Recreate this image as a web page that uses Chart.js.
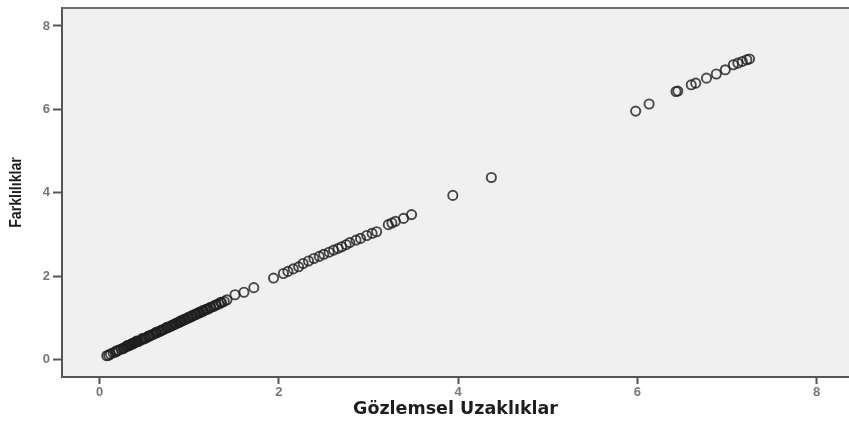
<!DOCTYPE html>
<html>
<head>
<meta charset="utf-8">
<script src="https://cdn.jsdelivr.net/npm/chart.js@4/dist/chart.umd.min.js"></script>
<style>
  html, body { margin: 0; padding: 0; background: #ffffff; }
  #wrap { width: 849px; height: 423px; }
</style>
</head>
<body>
<div id="wrap"><canvas id="c" width="849" height="423"></canvas></div>
<script>
// Gözlemsel Uzaklıklar (observed distances)
const observedX = [
  0.08, 0.12, 0.15, 0.18, 0.21, 0.24, 0.27, 0.29, 0.31, 0.33, 0.35, 0.37, 0.38, 0.40, 0.42,
  0.45, 0.47, 0.49, 0.52, 0.54, 0.56, 0.58, 0.60, 0.62, 0.64, 0.66, 0.68, 0.70, 0.72, 0.74,
  0.76, 0.78, 0.80, 0.82, 0.84, 0.86, 0.88, 0.90, 0.92, 0.94, 0.96, 0.98, 1.00, 1.02, 1.04,
  1.06, 1.08, 1.10, 1.12, 1.14, 1.16, 1.18, 1.21, 1.24, 1.27, 1.30, 1.33, 1.36, 1.39, 1.42,
  1.51, 1.61, 1.72, 1.94, 2.05, 2.10, 2.16, 2.22, 2.27, 2.33, 2.39, 2.45, 2.50, 2.56, 2.61,
  2.66, 2.70, 2.75, 2.79, 2.86, 2.91, 2.98, 3.04, 3.09, 3.22, 3.26, 3.30, 3.39, 3.48, 3.94,
  4.37, 5.98, 6.13, 6.43, 6.45, 6.60, 6.65, 6.77, 6.88, 6.98, 7.07, 7.12, 7.17, 7.22, 7.25,
  0.10, 0.19, 0.26, 0.30, 0.32, 0.34, 0.36, 0.39, 0.41, 0.43, 0.48, 0.51, 0.55, 0.63, 0.69,
  0.75, 0.81, 0.85, 0.89, 0.91, 0.95, 0.99, 1.03, 1.07, 1.11, 1.15, 1.19, 1.23, 1.29, 1.35
];
// Farklılıklar (disparities)
const disparities = [
  0.10, 0.14, 0.17, 0.19, 0.23, 0.26, 0.28, 0.31, 0.33, 0.34, 0.37, 0.38, 0.40, 0.42, 0.44,
  0.46, 0.49, 0.50, 0.53, 0.56, 0.57, 0.60, 0.61, 0.64, 0.65, 0.68, 0.69, 0.72, 0.73, 0.76,
  0.77, 0.80, 0.81, 0.84, 0.85, 0.88, 0.89, 0.92, 0.93, 0.96, 0.97, 1.00, 1.01, 1.04, 1.05,
  1.08, 1.09, 1.12, 1.13, 1.16, 1.17, 1.20, 1.22, 1.26, 1.28, 1.32, 1.34, 1.37, 1.40, 1.44,
  1.56, 1.62, 1.73, 1.96, 2.07, 2.12, 2.18, 2.23, 2.31, 2.37, 2.43, 2.48, 2.53, 2.58, 2.63,
  2.67, 2.71, 2.76, 2.81, 2.87, 2.91, 2.98, 3.03, 3.07, 3.24, 3.28, 3.32, 3.39, 3.48, 3.94,
  4.37, 5.96, 6.13, 6.43, 6.44, 6.59, 6.63, 6.75, 6.85, 6.95, 7.07, 7.11, 7.15, 7.19, 7.21,
  0.11, 0.22, 0.27, 0.33, 0.35, 0.36, 0.39, 0.41, 0.45, 0.44, 0.52, 0.52, 0.58, 0.66, 0.71,
  0.78, 0.83, 0.87, 0.91, 0.94, 0.98, 1.02, 1.06, 1.10, 1.14, 1.18, 1.21, 1.25, 1.31, 1.38
];
const tickValues = [0, 2, 4, 6, 8];
const xTitle = "Gözlemsel Uzaklıklar";
const yTitle = "Farklılıklar";

const points = observedX.map((x, i) => ({ x: x, y: disparities[i] }));

const bgPlugin = {
  id: 'bg',
  afterLayout(chart) {
    // condense the y-axis title along its length (narrow bold look)
    const s = chart.scales.y;
    if (s && !s._narrowed && typeof s.drawTitle === 'function') {
      const orig = s.drawTitle.bind(s);
      s.drawTitle = function () {
        const ctx = this.ctx;
        const cy = (this.top + this.bottom) / 2;
        ctx.save();
        ctx.translate(0, cy);
        ctx.scale(1, 0.83);
        ctx.translate(0, -cy);
        orig();
        ctx.restore();
      };
      s._narrowed = true;
    }
  },
  beforeDraw(chart) {
    const { ctx, chartArea: a } = chart;
    ctx.save();
    ctx.fillStyle = '#ffffff';
    ctx.fillRect(0, 0, chart.width, chart.height);
    ctx.fillStyle = '#f0f0f0';
    ctx.fillRect(a.left, a.top, a.right - a.left, a.bottom - a.top);
    ctx.restore();
  },
  afterDraw(chart) {
    const { ctx, chartArea: a } = chart;
    ctx.save();
    ctx.strokeStyle = '#707070';
    ctx.lineWidth = 2;
    ctx.beginPath();
    ctx.moveTo(a.left, a.top);
    ctx.lineTo(a.right, a.top);
    ctx.stroke();
    ctx.restore();
  }
};

new Chart(document.getElementById('c'), {
  type: 'scatter',
  data: {
    datasets: [{
      data: points,
      pointRadius: 4.6,
      pointHoverRadius: 4.6,
      pointBorderWidth: 1.9,
      pointBorderColor: 'rgba(30,30,30,0.8)',
      pointBackgroundColor: 'rgba(0,0,0,0)',
      showLine: false
    }]
  },
  plugins: [bgPlugin],
  options: {
    responsive: false,
    animation: false,
    events: [],
    layout: { autoPadding: false, padding: { top: 8, right: 0, left: 0, bottom: 0 } },
    plugins: { legend: { display: false }, tooltip: { enabled: false } },
    scales: {
      x: {
        type: 'linear',
        min: -0.42,
        max: 8.36,
        afterBuildTicks(scale) { scale.ticks = tickValues.map(v => ({ value: v })); },
        afterFit(scale) { scale.height = 46; scale.paddingRight = 0; scale.paddingLeft = 0; },
        border: { display: true, color: '#555555', width: 2 },
        grid: { drawOnChartArea: false, drawTicks: true, tickLength: 7, tickWidth: 2, tickColor: '#555555' },
        ticks: { color: '#777777', font: { family: 'Liberation Sans, Arial, sans-serif', size: 13, weight: 'bold' }, padding: 1, maxRotation: 0 },
        title: {
          display: true, text: xTitle, color: '#1e1e1e',
          font: { family: '"DejaVu Sans", sans-serif', size: 17.5, weight: 'bold' },
          padding: { top: 0, bottom: 3 }
        }
      },
      y: {
        type: 'linear',
        min: -0.41,
        max: 8.43,
        afterBuildTicks(scale) { scale.ticks = tickValues.map(v => ({ value: v })); },
        afterFit(scale) { scale.width = 62; scale.paddingTop = 0; scale.paddingBottom = 0; },
        border: { display: true, color: '#555555', width: 2 },
        grid: { drawOnChartArea: false, drawTicks: true, tickLength: 9, tickWidth: 2, tickColor: '#555555' },
        ticks: { color: '#777777', font: { family: 'Liberation Sans, Arial, sans-serif', size: 13, weight: 'bold' }, padding: 3 },
        title: {
          display: true, text: yTitle, color: '#1e1e1e',
          font: { family: 'Liberation Sans, Arial, sans-serif', size: 17, weight: 'bold' },
          padding: { top: 6, bottom: 0 }
        }
      }
    }
  }
});
</script>
</body>
</html>
